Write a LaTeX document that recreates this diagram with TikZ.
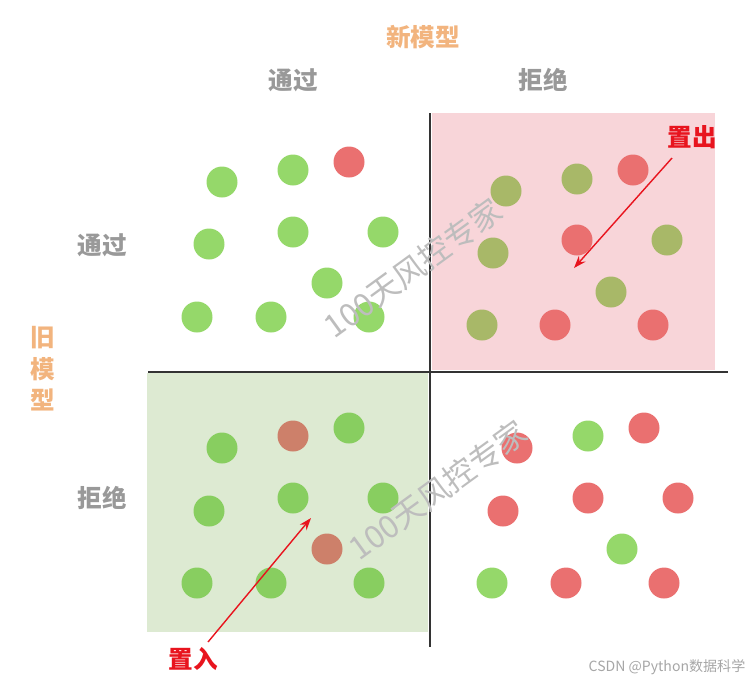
\documentclass[tikz,border=0pt]{standalone}
\usepackage{fontspec}
\newfontfamily\cjk{Noto Sans CJK SC}
\usetikzlibrary{arrows.meta}
\definecolor{lg}{HTML}{95D86A}
\definecolor{lr}{HTML}{EA7070}
\definecolor{olv}{HTML}{A8B868}
\definecolor{brn}{HTML}{CD806A}
\definecolor{gg}{HTML}{88CE60}
\definecolor{pinkbg}{HTML}{F8D5D9}
\definecolor{greenbg}{HTML}{DDEAD2}
\definecolor{orng}{HTML}{F2B47E}
\definecolor{lbl}{HTML}{999999}
\definecolor{redtxt}{HTML}{E8141E}
\definecolor{axis}{HTML}{333333}
\begin{document}
\begin{tikzpicture}[x=0.02cm,y=-0.02cm,
  dot/.style={circle,inner sep=0pt,minimum size=0.62cm},
  gdot/.style={dot,fill=lg},
  rdot/.style={dot,fill=lr},
  odot/.style={dot,fill=olv},
  bdot/.style={dot,fill=brn},
  ggdot/.style={dot,fill=gg},
  head/.style={font=\cjk\bfseries\fontsize{14}{16}\selectfont,text=lbl},
  title/.style={font=\cjk\bfseries\fontsize{14}{16}\selectfont,text=orng},
  redlbl/.style={font=\cjk\bfseries\fontsize{14}{16}\selectfont,text=redtxt},
  wm/.style={font=\cjk\fontsize{18}{20}\selectfont,text=black!26,rotate=36},
  axisline/.style={draw=axis,line width=1.1pt},
  redarrow/.style={draw=redtxt,line width=0.8pt,-{Stealth[length=7pt,width=5pt]}}
]
\useasboundingbox (0,0) rectangle (753,681);
% backgrounds
\fill[pinkbg] (432,113) rectangle (715,370);
\fill[greenbg] (147,373) rectangle (428,632);
% axes
\coordinate (vt) at (430,113);
\coordinate (vb) at (430,647);
\coordinate (hl) at (148,372);
\coordinate (hr) at (728,372);
\draw[axisline] (vt) -- (vb);
\draw[axisline] (hl) -- (hr);
% labels
\node[title] (newm) at (423,37) {新模型};
\node[head] (tpass) at (293,80) {通过};
\node[head] (trej) at (543,80) {拒绝};
\node[head] (lpass) at (102,245) {通过};
\node[head] (lrej) at (102,498) {拒绝};
\node[title,align=center] (oldm) at (43,369) {旧\\[2pt]模\\[2pt]型};
% top-left
\node[gdot] (a1) at (222,182) {};
\node[gdot] (a2) at (293,170) {};
\node[rdot] (a3) at (349,162) {};
\node[gdot] (a4) at (209,244) {};
\node[gdot] (a5) at (293,232) {};
\node[gdot] (a6) at (383,232) {};
\node[gdot] (a7) at (327,283) {};
\node[gdot] (a8) at (197,317) {};
\node[gdot] (a9) at (271,317) {};
\node[gdot] (a10) at (369,317) {};
% top-right
\node[odot] (b1) at (506,191) {};
\node[odot] (b2) at (577,179) {};
\node[rdot] (b3) at (633,170) {};
\node[odot] (b4) at (493,253) {};
\node[rdot] (b5) at (577,240) {};
\node[odot] (b6) at (667,240) {};
\node[odot] (b7) at (611,292) {};
\node[odot] (b8) at (482,325) {};
\node[rdot] (b9) at (555,325) {};
\node[rdot] (b10) at (653,325) {};
% bottom-left
\node[ggdot] (c1) at (222,448) {};
\node[bdot] (c2) at (293,436) {};
\node[ggdot] (c3) at (349,428) {};
\node[ggdot] (c4) at (209,511) {};
\node[ggdot] (c5) at (293,498) {};
\node[ggdot] (c6) at (383,498) {};
\node[bdot] (c7) at (327,549) {};
\node[ggdot] (c8) at (197,583) {};
\node[ggdot] (c9) at (271,583) {};
\node[ggdot] (c10) at (369,583) {};
% bottom-right
\node[rdot] (d1) at (517,448) {};
\node[gdot] (d2) at (588,436) {};
\node[rdot] (d3) at (644,428) {};
\node[rdot] (d4) at (503,511) {};
\node[rdot] (d5) at (588,498) {};
\node[rdot] (d6) at (678,498) {};
\node[gdot] (d7) at (622,549) {};
\node[gdot] (d8) at (492,583) {};
\node[rdot] (d9) at (566,583) {};
\node[rdot] (d10) at (664,583) {};
% watermarks
\node[wm] (w1) at (413,268) {100天风控专家};
\node[wm] (w2) at (438,490) {100天风控专家};
\node[font=\cjk\fontsize{8}{9}\selectfont,text=black!35] (csdn) at (667,667) {CSDN @Python数据科学};
% arrows
\node[redlbl] (out) at (692,137) {置出};
\node[redlbl] (in) at (193,659) {置入};
\coordinate (os) at (672,158);
\coordinate (oe) at (574,268);
\coordinate (is) at (208,642);
\coordinate (ie) at (311,518);
\draw[redarrow] (os) -- (oe);
\draw[redarrow] (is) -- (ie);
\end{tikzpicture}
\end{document}
